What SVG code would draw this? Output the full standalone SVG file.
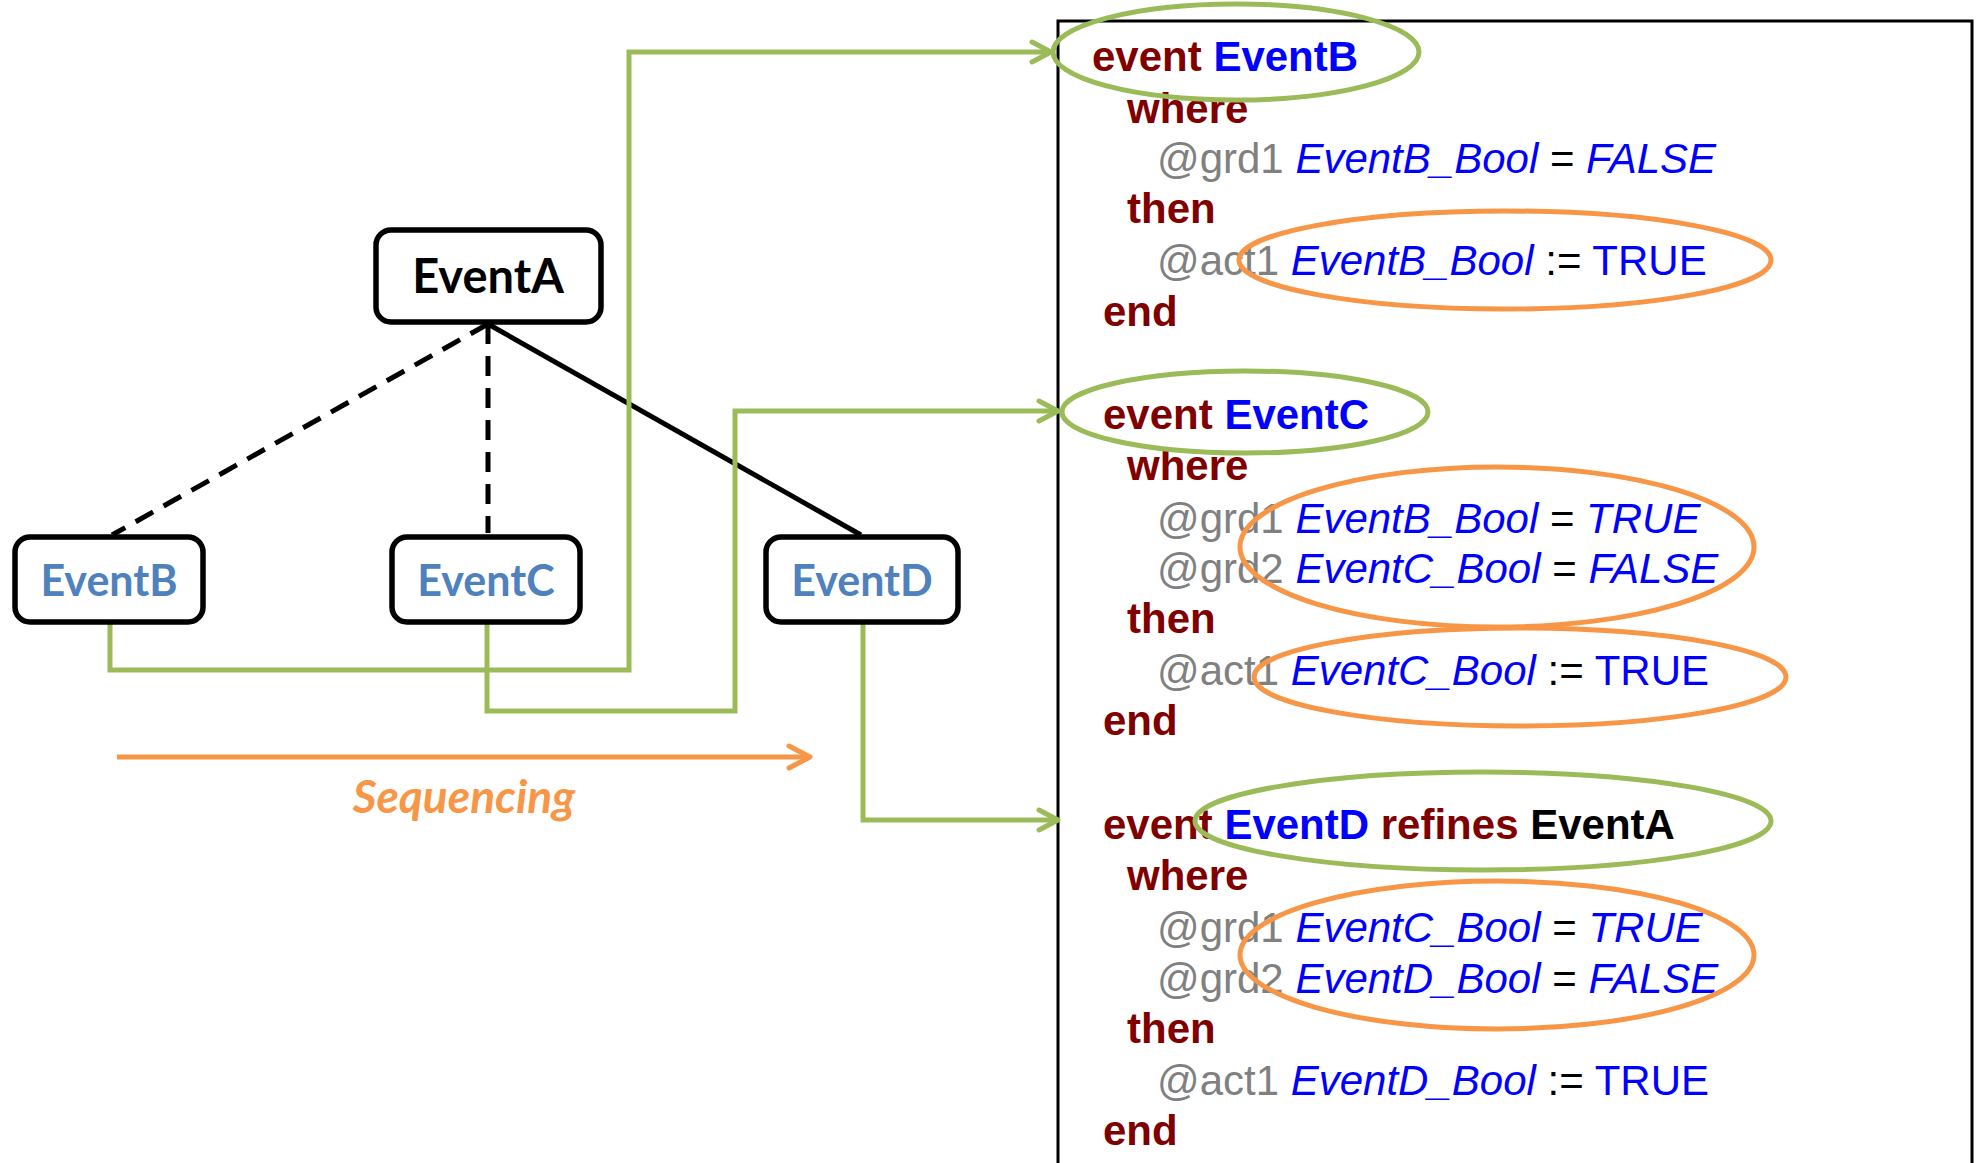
<svg xmlns="http://www.w3.org/2000/svg" width="1978" height="1163" viewBox="0 0 1978 1163">
  <style>
    .box { fill: #ffffff; stroke: #000000; stroke-width: 5.5; }
    .lbl { font-family: Lato, "Open Sans", sans-serif; font-weight: 700; text-anchor: middle; }
    .lbl-a { font-size: 47px; fill: #000000; }
    .lbl-sub { font-size: 43px; fill: #4F81BD; }
    .tree { fill: none; stroke: #000000; stroke-width: 5; }
    .dash { stroke-dasharray: 20 12; }
    .flow { fill: none; stroke: #9BBB59; stroke-width: 5; stroke-linejoin: miter; }
    .seq { fill: none; stroke: #F79646; stroke-width: 5; }
    .seq-lbl { font-family: Lato, "Open Sans", sans-serif; font-weight: 700; font-style: italic; font-size: 46px; fill: #F79646; text-anchor: middle; }
    .panel { fill: none; stroke: #000000; stroke-width: 3; }
    .code { font-family: "Liberation Sans", Arial, sans-serif; font-size: 42px; fill: #000000; }
    .kw { fill: #800000; font-weight: 700; }
    .nm { fill: #0000FF; font-weight: 700; }
    .ref { fill: #000000; font-weight: 700; }
    .lab { fill: #808080; }
    .var { fill: #0000FF; font-style: italic; }
    .val { fill: #0000FF; }
    .hl-g { fill: none; stroke: #9BBB59; stroke-width: 5; }
    .hl-o { fill: none; stroke: #F79646; stroke-width: 5; }
  </style>
  <defs>
    <marker id="arrow-green" markerUnits="userSpaceOnUse" viewBox="-24 -14 28 28" markerWidth="28" markerHeight="28" refX="0" refY="0" orient="auto">
      <path d="M-19,-10 L0,0 L-19,10" fill="none" stroke="#9BBB59" stroke-width="5" stroke-linecap="round" stroke-linejoin="round"/>
    </marker>
    <marker id="arrow-orange" markerUnits="userSpaceOnUse" viewBox="-26 -15 30 30" markerWidth="30" markerHeight="30" refX="0" refY="0" orient="auto">
      <path d="M-21,-11 L0,0 L-21,11" fill="none" stroke="#F79646" stroke-width="5" stroke-linecap="round" stroke-linejoin="round"/>
    </marker>
  </defs>

  <rect width="1978" height="1163" fill="#ffffff"/>

  <!-- event specification panel (open at the bottom) -->
  <g id="code-panel">
    <path class="panel" d="M1058,1175 V21 H1972 V1175"/>

    <g id="def-EventB" class="code">
      <text x="1092" y="71"><tspan class="kw">event</tspan> <tspan class="nm">EventB</tspan></text>
      <text x="1127" y="123" class="kw">where</text>
      <text x="1157" y="173"><tspan class="lab">@grd1</tspan> <tspan class="var">EventB_Bool</tspan> = <tspan class="var">FALSE</tspan></text>
      <text x="1127" y="223" class="kw">then</text>
      <text x="1157" y="275"><tspan class="lab">@act1</tspan> <tspan class="var">EventB_Bool</tspan> := <tspan class="val">TRUE</tspan></text>
      <text x="1103" y="326" class="kw">end</text>
    </g>

    <g id="def-EventC" class="code">
      <text x="1103" y="429"><tspan class="kw">event</tspan> <tspan class="nm">EventC</tspan></text>
      <text x="1127" y="480" class="kw">where</text>
      <text x="1157" y="533"><tspan class="lab">@grd1</tspan> <tspan class="var">EventB_Bool</tspan> = <tspan class="var">TRUE</tspan></text>
      <text x="1157" y="583"><tspan class="lab">@grd2</tspan> <tspan class="var">EventC_Bool</tspan> = <tspan class="var">FALSE</tspan></text>
      <text x="1127" y="633" class="kw">then</text>
      <text x="1157" y="685"><tspan class="lab">@act1</tspan> <tspan class="var">EventC_Bool</tspan> := <tspan class="val">TRUE</tspan></text>
      <text x="1103" y="735" class="kw">end</text>
    </g>

    <g id="def-EventD" class="code">
      <text x="1103" y="839"><tspan class="kw">event</tspan> <tspan class="nm">EventD</tspan> <tspan class="kw">refines</tspan> <tspan class="ref">EventA</tspan></text>
      <text x="1127" y="890" class="kw">where</text>
      <text x="1157" y="942"><tspan class="lab">@grd1</tspan> <tspan class="var">EventC_Bool</tspan> = <tspan class="var">TRUE</tspan></text>
      <text x="1157" y="993"><tspan class="lab">@grd2</tspan> <tspan class="var">EventD_Bool</tspan> = <tspan class="var">FALSE</tspan></text>
      <text x="1127" y="1043" class="kw">then</text>
      <text x="1157" y="1095"><tspan class="lab">@act1</tspan> <tspan class="var">EventD_Bool</tspan> := <tspan class="val">TRUE</tspan></text>
      <text x="1103" y="1145" class="kw">end</text>
    </g>

    <!-- highlight rings: event headers (green), guards/actions (orange) -->
    <g id="highlights">
      <ellipse class="hl-g" cx="1236" cy="52" rx="183" ry="48"/>
      <ellipse class="hl-g" cx="1245" cy="412" rx="183" ry="41"/>
      <ellipse class="hl-g" cx="1483" cy="821" rx="288" ry="49"/>
      <ellipse class="hl-o" cx="1505" cy="260" rx="266" ry="49"/>
      <ellipse class="hl-o" cx="1497" cy="547" rx="257" ry="80"/>
      <ellipse class="hl-o" cx="1520" cy="677" rx="266" ry="49"/>
      <ellipse class="hl-o" cx="1497" cy="955" rx="257" ry="74"/>
    </g>
  </g>

  <!-- connectors -->
  <g id="connectors">
    <line class="tree dash" x1="488" y1="324" x2="112" y2="535"/>
    <line class="tree dash" x1="488" y1="324" x2="488" y2="533"/>
    <line class="tree" x1="488" y1="324" x2="861" y2="535"/>
    <path class="flow" d="M110,624 V670 H629 V52 H1051" marker-end="url(#arrow-green)"/>
    <path class="flow" d="M487,624 V711 H735 V411 H1058" marker-end="url(#arrow-green)"/>
    <path class="flow" d="M863,624 V820 H1058" marker-end="url(#arrow-green)"/>
    <line class="seq" x1="117" y1="757" x2="810" y2="757" marker-end="url(#arrow-orange)"/>
    <text class="seq-lbl" x="464" y="813">Sequencing</text>
  </g>

  <!-- event nodes -->
  <g id="EventA">
    <rect class="box" x="376" y="230" width="225" height="92" rx="15"/>
    <text class="lbl lbl-a" x="488" y="293">EventA</text>
  </g>
  <g id="EventB">
    <rect class="box" x="15" y="537" width="188" height="85" rx="15"/>
    <text class="lbl lbl-sub" x="109" y="596">EventB</text>
  </g>
  <g id="EventC">
    <rect class="box" x="392" y="537" width="188" height="85" rx="15"/>
    <text class="lbl lbl-sub" x="486" y="596">EventC</text>
  </g>
  <g id="EventD">
    <rect class="box" x="766" y="537" width="192" height="85" rx="15"/>
    <text class="lbl lbl-sub" x="862" y="596">EventD</text>
  </g>
</svg>
